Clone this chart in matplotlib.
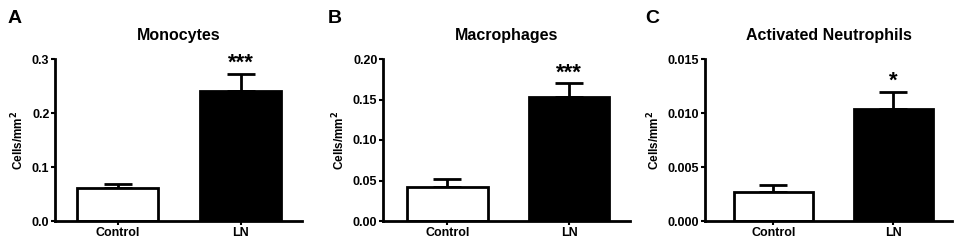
import matplotlib
matplotlib.use("Agg")
import matplotlib.pyplot as plt

plt.rcParams['font.family'] = ['Liberation Sans', 'DejaVu Sans']
plt.rcParams['font.weight'] = 'bold'

categories = ["Control", "LN"]
panel_letters = ["A", "B", "C"]
titles = ["Monocytes", "Macrophages", "Activated Neutrophils"]
means_mono = [0.061, 0.241]
err_mono = [0.007, 0.031]
means_macro = [0.0424, 0.1535]
err_macro = [0.0095, 0.0165]
means_neut = [0.00271, 0.0104]
err_neut = [0.00062, 0.00157]
stars = ["***", "***", "*"]
yticks_mono = [0.0, 0.1, 0.2, 0.3]
yticks_macro = [0.00, 0.05, 0.10, 0.15, 0.20]
yticks_neut = [0.000, 0.005, 0.010, 0.015]
ytick_fmt = ["{:.1f}", "{:.2f}", "{:.3f}"]

W, H = 957, 242
fig = plt.figure(figsize=(W / 100, H / 100), dpi=100)

ax_px = [(55, 302), (383, 630), (705, 952)]
xlims = [(-0.51, 1.5), (-0.53, 1.5), (-0.57, 1.49)]
y_top, y_bot = 59, 221
label_x = [8, 328, 645]

data = [(means_mono, err_mono, yticks_mono),
        (means_macro, err_macro, yticks_macro),
        (means_neut, err_neut, yticks_neut)]

for i, (m, e, yt) in enumerate(data):
    l, r = ax_px[i]
    ax = fig.add_axes([l / W, (H - y_bot) / H, (r - l) / W, (y_bot - y_top) / H])
    x = [0, 1]
    ax.bar(x, m, width=0.66, color=["white", "black"], edgecolor="black",
           linewidth=2, zorder=2)
    ax.errorbar(x, m, yerr=[[0, 0], e], fmt="none", ecolor="black",
                elinewidth=2, capsize=10, capthick=2, zorder=1)
    ax.set_xlim(*xlims[i])
    ax.set_ylim(yt[0], yt[-1])
    ax.set_yticks(yt)
    ax.set_yticklabels([ytick_fmt[i].format(v) for v in yt], fontsize=9,
                       fontweight="bold")
    ax.set_xticks(x)
    ax.set_xticklabels(categories, fontsize=9, fontweight="bold")
    ax.tick_params(axis="both", width=1.5, length=3, direction="out", pad=1)
    for s in ["top", "right"]:
        ax.spines[s].set_visible(False)
    for s in ["left", "bottom"]:
        ax.spines[s].set_linewidth(2)
    ax.set_ylabel("Cells/mm$^\\mathbf{2}$", fontsize=8.5, fontweight="bold", labelpad=4)
    ax.set_title(titles[i], fontsize=11.5, fontweight="bold", pad=14)
    ax.text(1, m[1] + e[1], stars[i], ha="center", va="bottom", fontsize=16,
            fontweight="bold")
    fig.text(label_x[i] / W, 1 - 10 / H, panel_letters[i], fontsize=14,
             fontweight="bold", ha="left", va="top")

fig.savefig("out.png", dpi=100)
